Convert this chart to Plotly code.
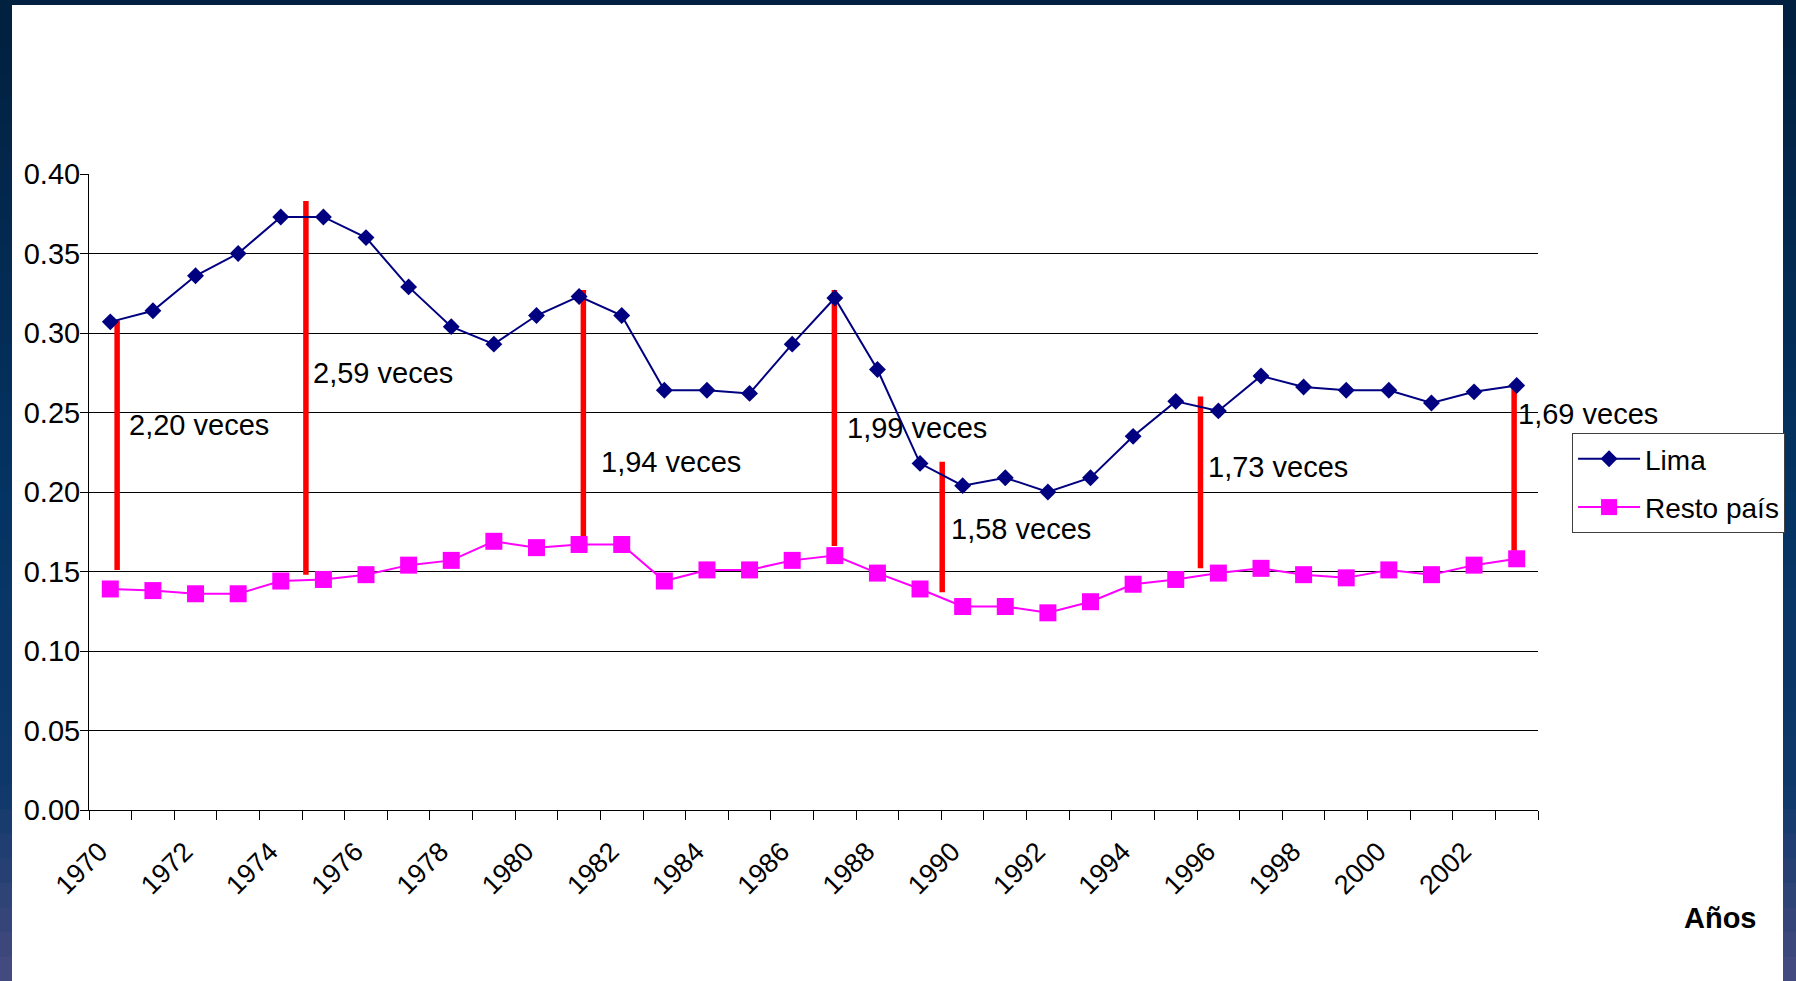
import plotly.graph_objects as go

# ---------------- data ----------------
years = list(range(1970, 2004))
lima = [0.307, 0.314, 0.336, 0.350, 0.373, 0.373, 0.360, 0.329, 0.304, 0.293,
        0.311, 0.323, 0.311, 0.264, 0.264, 0.262, 0.293, 0.322, 0.277, 0.218,
        0.204, 0.209, 0.200, 0.209, 0.235, 0.257, 0.251, 0.273, 0.266, 0.264,
        0.264, 0.256, 0.263, 0.267]
resto = [0.139, 0.138, 0.136, 0.136, 0.144, 0.145, 0.148, 0.154, 0.157, 0.169,
         0.165, 0.167, 0.167, 0.144, 0.151, 0.151, 0.157, 0.160, 0.149, 0.139,
         0.128, 0.128, 0.124, 0.131, 0.142, 0.145, 0.149, 0.152, 0.148, 0.146,
         0.151, 0.148, 0.154, 0.158]

# ratio markers (red bars) : x position (year), top and bottom values
ratio_x = [1970.16, 1974.59, 1981.10, 1986.99, 1989.52, 1995.58, 2002.94]
ratio_top = [0.308, 0.383, 0.327, 0.327, 0.219, 0.260, 0.267]
ratio_bottom = [0.151, 0.148, 0.172, 0.166, 0.137, 0.152, 0.163]

# ratio labels and their anchor (data coordinates)
ratio_labels = ["2,20 veces", "2,59 veces", "1,94 veces", "1,99 veces",
                "1,58 veces", "1,73 veces", "1,69 veces"]
label_x = [1970.40, 1974.72, 1981.47, 1987.25, 1989.69, 1995.72, 2002.98]
label_y = [0.242, 0.275, 0.219, 0.2405, 0.177, 0.216, 0.249]

tick_years = list(range(1970, 2003, 2))
tick_text = [str(y) for y in tick_years]

FONT = "Liberation Sans, Arial, sans-serif"

fig = go.Figure()

# red bars
bx, by = [], []
for x, t, b in zip(ratio_x, ratio_top, ratio_bottom):
    bx += [x, x, None]
    by += [b, t, None]
fig.add_trace(go.Scatter(x=bx, y=by, mode="lines",
                         line=dict(color="#FF0000", width=5.5),
                         showlegend=False, hoverinfo="skip"))

fig.add_trace(go.Scatter(x=years, y=lima, name="Lima", mode="lines+markers",
                         legendgroup="a",
                         line=dict(color="#000080", width=2),
                         marker=dict(symbol="diamond", size=13, color="#000080")))
fig.add_trace(go.Scatter(x=years, y=resto, name="Resto país", mode="lines+markers",
                         legendgroup="b",
                         line=dict(color="#FF00FF", width=2),
                         marker=dict(symbol="square", size=17, color="#FF00FF")))

for txt, x, y in zip(ratio_labels, label_x, label_y):
    fig.add_annotation(x=x, y=y, text=txt, showarrow=False, xanchor="left",
                       yanchor="middle", font=dict(size=29, color="black", family=FONT))

fig.add_annotation(xref="paper", yref="paper", x=1.1262, y=-0.1698, text="<b>Años</b>",
                   showarrow=False, xanchor="center", yanchor="middle",
                   font=dict(size=29, color="black", family=FONT))

# ---------------- background (dark gradient frame + white panel) ----------------
W, H = 1796, 981
L, R, T, B = 89, 258, 174, 171
pw, ph = W - L - R, H - T - B


def px2paper(x, y):
    return (x - L) / pw, (H - B - y) / ph


stops = [(0.0, (2, 31, 62)), (0.5, (4, 52, 99)), (0.8, (14, 56, 106)), (1.0, (71, 75, 128))]


def col_at(f):
    for (f0, c0), (f1, c1) in zip(stops[:-1], stops[1:]):
        if f0 <= f <= f1:
            t = (f - f0) / (f1 - f0)
            return "rgb(%d,%d,%d)" % tuple(round(a + (b - a) * t) for a, b in zip(c0, c1))
    return "rgb(%d,%d,%d)" % stops[-1][1]


shapes = []
n = 40
for i in range(n):
    y0 = H * i / n
    y1 = H * (i + 1) / n + 1
    x0p, y0p = px2paper(0, y1)
    x1p, y1p = px2paper(W, y0)
    shapes.append(dict(type="rect", xref="paper", yref="paper", x0=x0p, x1=x1p,
                       y0=y0p, y1=y1p, fillcolor=col_at((i + 0.5) / n),
                       line=dict(width=0), layer="below"))
wx0, wy0 = px2paper(12, H + 2)
wx1, wy1 = px2paper(1783, 5)
shapes.append(dict(type="rect", xref="paper", yref="paper", x0=wx0, x1=wx1, y0=wy0, y1=wy1,
                   fillcolor="white", line=dict(width=0), layer="below"))

fig.update_layout(
    width=W, height=H,
    margin=dict(l=L, r=R, t=T, b=B, pad=0, autoexpand=False),
    paper_bgcolor="#02213f", plot_bgcolor="white",
    font=dict(family=FONT, size=28, color="black"),
    shapes=shapes,
    showlegend=True,
    legend=dict(x=1.0235, y=0.5928, xanchor="left", yanchor="top",
                bgcolor="white", bordercolor="#404040", borderwidth=1,
                font=dict(size=28, family=FONT, color="black"),
                itemwidth=62, tracegroupgap=9),
    xaxis=dict(range=[1969.5, 2003.5], tickmode="array",
               tickvals=[y - 0.25 for y in tick_years],
               ticktext=tick_text, tickangle=-45, ticks="", showgrid=False,
               zeroline=False, showline=True, linecolor="black", linewidth=1,
               ticklabelstandoff=14, automargin=False,
               tickfont=dict(size=27, family=FONT, color="black"),
               minor=dict(tickmode="linear", tick0=1969.5, dtick=1, ticks="outside", ticklen=9,
                          tickcolor="black", tickwidth=1, showgrid=False)),
    yaxis=dict(range=[0, 0.40], tickmode="linear", tick0=0, dtick=0.05,
               tickformat=".2f", showgrid=True, gridcolor="black", gridwidth=1,
               zeroline=False, showline=True, linecolor="black", linewidth=1,
               ticks="outside", ticklen=8, tickcolor="black",
               ticklabelstandoff=-6, automargin=False,
               tickfont=dict(size=29, family=FONT, color="black")),
)

fig.write_html("out.html", config={"displayModeBar": False},
               post_script="document.body.style.margin='0';document.body.style.overflow='hidden';")
